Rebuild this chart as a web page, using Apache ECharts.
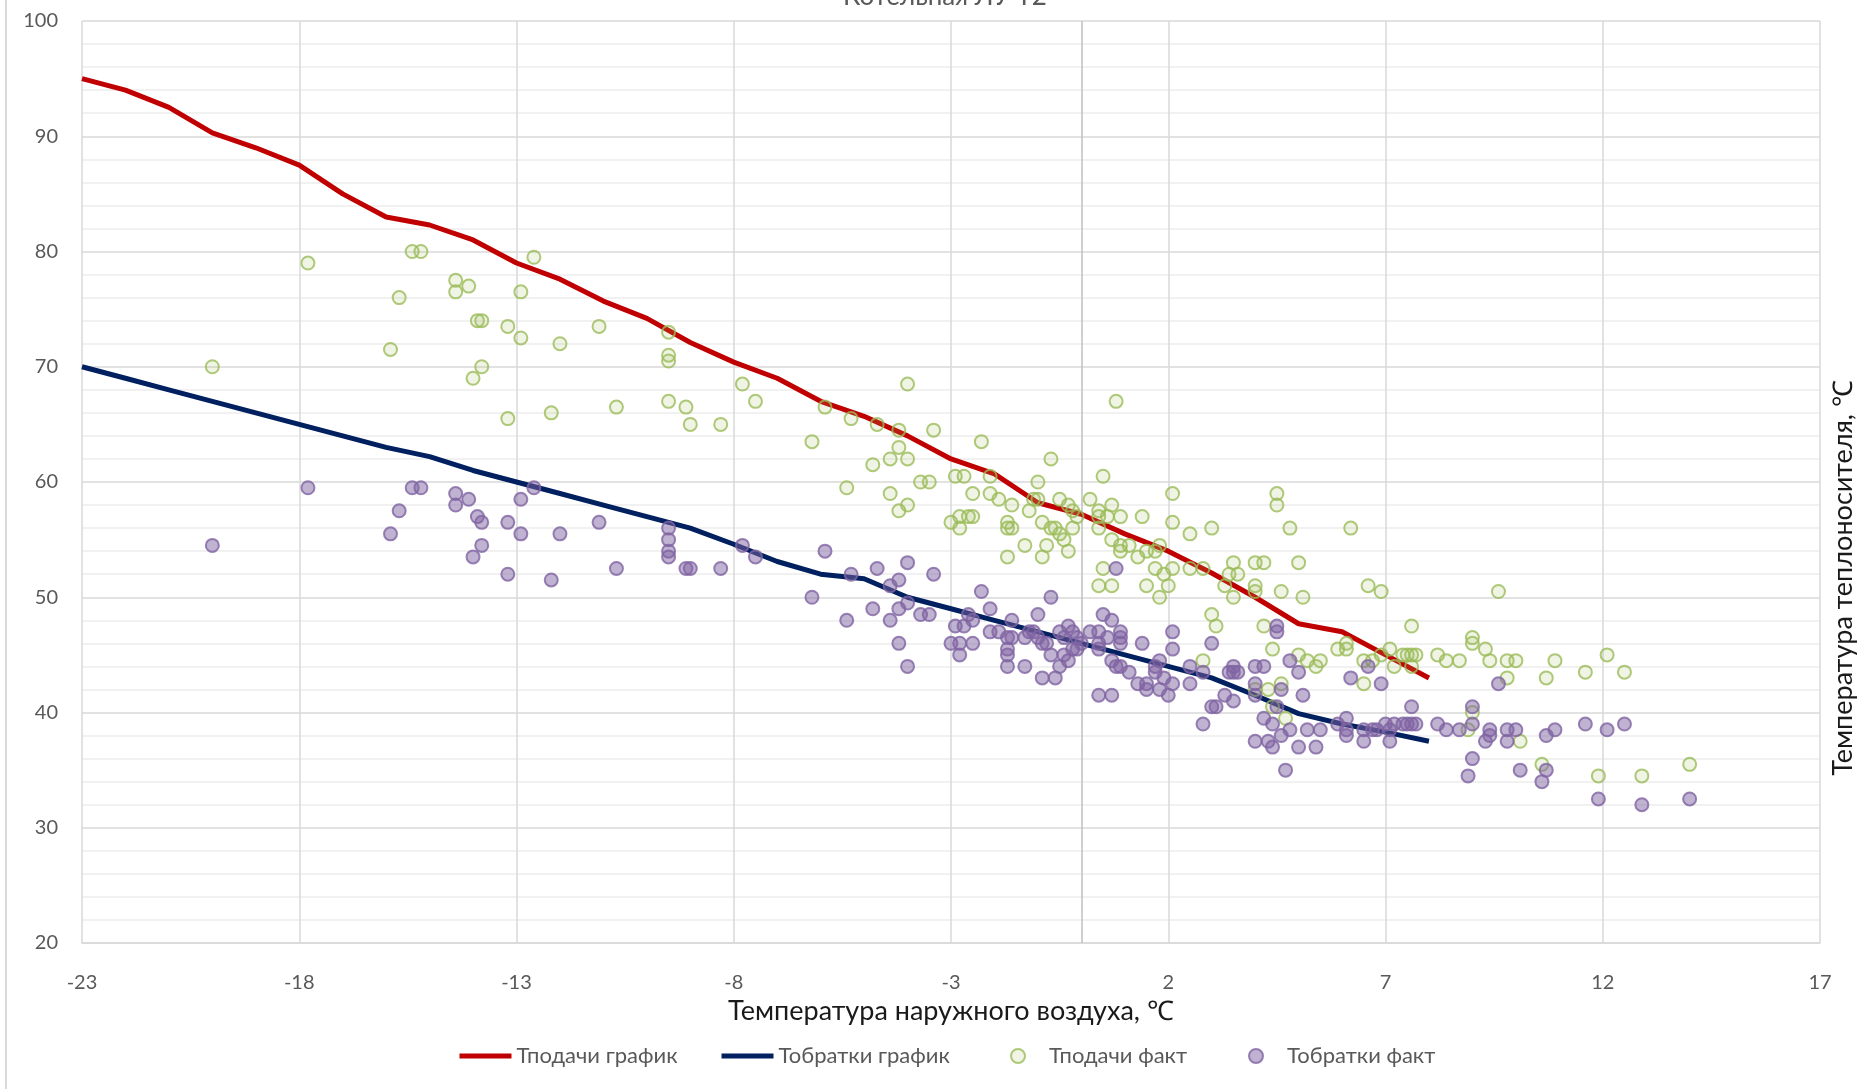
<!DOCTYPE html>
<html>
<head>
<meta charset="utf-8">
<script src="https://cdn.jsdelivr.net/npm/echarts@6/dist/echarts.min.js"></script>
<style>
html,body{margin:0;padding:0;background:#fff;}
#chart{width:1865px;height:1089px;}
</style>
</head>
<body>
<div id="chart"></div>
<script>
// ---- data ----
var titleText = 'Котельная ЛУ Т2';
var xName = 'Температура наружного воздуха, ℃';
var yName = 'Температура теплоносителя, ℃';
var seriesNames = ['Тподачи график', 'Тобратки график', 'Тподачи факт', 'Тобратки факт'];

var scheduleX = [-23,-22,-21,-20,-19,-18,-17,-16,-15,-14,-13,-12,-11,-10,-9,-8,-7,-6,-5,-4,-3,-2,-1,0,1,2,3,4,5,6,7,8];
var supplySchedule = [95,94,92.5,90.3,89,87.5,85,83,82.3,81,79,77.6,75.7,74.2,72.1,70.4,69,67,65.7,64,62,60.7,58.2,57.2,55.5,54,52.1,50,47.7,47,45,43];
var returnSchedule = [70,69,68,67,66,65,64,63,62.2,61,60,59,58,57,56,54.6,53.1,52,51.6,50,49,48,47,46,45,44,43,41.5,39.9,39,38.3,37.5];

var supplyFact = [
[-20,70],[-17.8,79],[-15.4,80],[-15.2,80],[-15.7,76],[-15.9,71.5],[-14.4,77.5],[-14.4,76.5],[-14.1,77],[-13.9,74],[-13.8,74],[-13.8,70],[-14.0,69],[-13.2,73.5],[-12.9,76.5],[-12.9,72.5],[-13.2,65.5],[-12.6,79.5],[-12.2,66],[-12.0,72],[-11.1,73.5],[-10.7,66.5],[-9.5,73],[-9.5,71],[-9.5,70.5],[-9.5,67],[-9.1,66.5],[-9.0,65],[-8.3,65],[-7.8,68.5],
[-7.5,67],[-5.9,66.5],[-6.2,63.5],[-5.3,65.5],[-5.4,59.5],[-4.7,65],[-4.2,64.5],[-4.0,68.5],[-4.2,63],[-4.4,62],[-4.0,62],[-4.8,61.5],[-4.4,59],[-4.2,57.5],[-4.0,58],[-3.7,60],[-3.5,60],[-3.4,64.5],[-2.9,60.5],[-2.7,60.5],[-2.3,63.5],[-2.1,60.5],[-2.5,59],[-2.1,59],[-1.9,58.5],[-1.6,58],[-3.0,56.5],[-2.8,57],[-2.6,57],[-2.5,57],[-2.8,56],[-1.7,56.5],[-1.7,56],[-1.6,56],[-1.7,53.5],[-1.3,54.5],[-1.0,60],[-1.1,58.5],[-1.0,58.5],[-1.2,57.5],[-0.7,62],[-0.9,56.5],[-0.8,54.5],[-0.9,53.5],[-0.5,58.5],[-0.7,56],[-0.6,56],[-0.5,55.5],[-0.4,55],[-0.3,54],[-0.3,58],[-0.2,57.5],[-0.1,57],[-0.2,56],[0.2,58.5],[0.5,60.5],[0.4,57.5],[0.4,57],[0.4,56],[0.6,57],[0.7,58],[0.7,55],[0.5,52.5],[0.4,51],[0.7,51],[0.8,67],
[0.9,57],[1.4,57],[2.1,59],[2.1,56.5],[2.5,55.5],[3.0,56],[0.9,54.5],[0.9,54],[1.1,54.5],[1.3,53.5],[1.5,54],[1.7,54],[1.8,54.5],[1.7,52.5],[1.9,52],[2.1,52.5],[1.5,51],[2.0,51],[1.8,50],[2.5,52.5],[2.8,52.5],[3.5,53],[3.4,52],[3.6,52],[3.3,51],[3.5,50],[4.0,53],[4.2,53],[4.0,51],[4.0,50.5],[4.5,59],[4.5,58],[4.8,56],[5.0,53],[4.6,50.5],[5.1,50],[6.2,56],[6.6,51],[6.9,50.5],[3.0,48.5],[3.1,47.5],[4.2,47.5],[4.4,45.5],[2.8,44.5],[4.0,42],[4.3,42],[4.6,42.5],[4.4,40.5],[4.7,39.5],[5.0,45],[5.2,44.5],[5.4,44],[5.5,44.5],[5.9,45.5],[6.1,46],[6.1,45.5],[6.5,44.5],[6.7,44.5],[6.9,45],[7.1,45.5],[7.2,44],[7.4,45],[7.5,45],[7.6,45],[7.7,45],[7.6,44],[7.6,47.5],[8.2,45],[6.5,42.5],
[8.4,44.5],[8.7,44.5],[9.0,46.5],[9.0,46],[9.3,45.5],[9.4,44.5],[9.6,50.5],[9.8,44.5],[10.0,44.5],[9.8,43],[10.7,43],[10.9,44.5],[11.6,43.5],[12.1,45],[12.5,43.5],[9.0,40],[8.9,38.5],[10.1,37.5],[10.6,35.5],[11.9,34.5],[12.9,34.5],[14.0,35.5]
];

var returnFact = [
[-20,54.5],[-17.8,59.5],[-15.4,59.5],[-15.2,59.5],[-15.7,57.5],[-15.9,55.5],[-14.4,59],[-14.4,58],[-14.1,58.5],[-13.9,57],[-13.8,56.5],[-13.8,54.5],[-14.0,53.5],[-13.2,56.5],[-12.9,58.5],[-12.9,55.5],[-13.2,52],[-12.6,59.5],[-12.2,51.5],[-12.0,55.5],[-11.1,56.5],[-10.7,52.5],[-9.5,56],[-9.5,55],[-9.5,54],[-9.5,53.5],[-9.1,52.5],[-9.0,52.5],[-8.3,52.5],[-7.8,54.5],
[-7.5,53.5],[-5.9,54],[-6.2,50],[-5.3,52],[-5.4,48],[-4.7,52.5],[-4.0,53],[-4.2,51.5],[-4.4,51],[-4.8,49],[-4.2,49],[-4.0,49.5],[-4.4,48],[-4.2,46],[-4.0,44],[-3.7,48.5],[-3.5,48.5],[-3.4,52],[-2.3,50.5],[-2.6,48.5],[-2.5,48],[-2.9,47.5],[-2.7,47.5],[-2.1,49],[-3.0,46],[-2.8,46],[-2.5,46],[-2.8,45],[-2.1,47],[-1.9,47],[-1.6,48],[-1.7,46.5],[-1.6,46.5],[-1.7,45.5],[-1.7,45],[-1.7,44],[-1.3,46.5],[-1.3,44],[-1.0,48.5],[-0.7,50],[-1.2,47],[-1.1,47],[-1.0,46.5],[-0.9,46],[-0.8,46],[-0.7,45],[-0.9,43],[-0.6,43],[-0.5,44],[-0.5,47],[-0.3,47.5],[-0.2,47],[-0.1,46.5],[-0.4,46.5],[-0.4,45],[-0.3,44.5],[-0.2,45.5],[-0.1,45.5],[0,46],[0.2,47],[0.4,47],[0.4,45.5],[0.6,46.5],[0.7,48],[0.5,48.5],[0.7,44.5],[0.8,44],[0.4,41.5],[0.7,41.5],[0.8,52.5],
[0.9,47],[0.9,46.5],[0.9,46],[0.4,46],[1.1,43.5],[0.9,44],[1.3,42.5],[1.5,42.5],[1.5,42],[1.4,46],[1.7,44],[1.8,44.5],[1.7,43.5],[1.9,43],[2.1,42.5],[1.8,42],[2.0,41.5],[2.1,47],[2.1,45.5],[2.5,44],[2.5,42.5],[2.8,43.5],[3.0,46],[2.8,39],[3.0,40.5],[3.1,40.5],[3.3,41.5],[3.4,43.5],[3.5,44],[3.5,43.5],[3.6,43.5],[3.5,41],[4.0,44],[4.2,44],[4.0,42.5],[4.0,41.5],[4.5,47.5],[4.5,47],[4.6,42],[4.8,44.5],[5.0,43.5],[5.1,41.5],[4.5,40.5],[4.2,39.5],[4.4,39],[4.0,37.5],[4.3,37.5],[4.4,37],[4.6,38],[4.8,38.5],[4.7,35],[5.0,37],[5.4,37],[5.2,38.5],[5.5,38.5],[6.2,43],[6.6,44],[6.9,42.5],[5.9,39],[6.1,39.5],[6.1,38.5],[6.1,38],[6.5,38.5],[6.5,37.5],[6.7,38.5],[6.8,38.5],[7.0,39],[7.1,38.5],[7.1,37.5],[7.2,39],[7.4,39],[7.5,39],[7.6,39],[7.7,39],[7.6,40.5],[8.2,39],
[8.4,38.5],[8.7,38.5],[9.0,40.5],[9.0,39],[9.4,38.5],[9.3,37.5],[9.4,38],[9.6,42.5],[9.8,38.5],[10.0,38.5],[9.8,37.5],[9.0,36],[8.9,34.5],[10.1,35],[10.7,38],[10.9,38.5],[10.6,34],[10.7,35],[11.6,39],[12.1,38.5],[12.5,39],[11.9,32.5],[12.9,32],[14.0,32.5]
];

// ---- chart ----
var FONT = 'Lato';
function pairs(xs, ys){ return xs.map(function(x,i){ return [x, ys[i]]; }); }
function legendAt(left, item){
  return {
    left: left, top: 1045, padding: 0,
    itemWidth: 52, itemHeight: 14, itemGap: 0,
    textStyle: {fontFamily: FONT, fontSize: 22, color: '#595959'},
    data: [item]
  };
}

var chart = echarts.init(document.getElementById('chart'), null, {renderer:'canvas'});
chart.setOption({
  animation: false,
  backgroundColor: '#ffffff',
  textStyle: {fontFamily: FONT},
  grid: {left: 82, right: 45, top: 21, bottom: 146, containLabel: false},
  legend: [
    legendAt(457, {name: seriesNames[0], itemStyle: {opacity: 0}, lineStyle: {width: 5}}),
    legendAt(719, {name: seriesNames[1], itemStyle: {opacity: 0}, lineStyle: {width: 5}}),
    legendAt(1010, {name: seriesNames[2]}),
    legendAt(1248, {name: seriesNames[3]})
  ],
  xAxis: {
    type: 'value', min: -23, max: 17, interval: 5,
    name: xName, nameLocation: 'middle', nameGap: 48,
    nameTextStyle: {fontFamily: FONT, fontSize: 27, color: '#1a1a1a'},
    axisLine: {show: true, onZero: false, lineStyle: {color: '#D9D9D9', width: 1.5}},
    axisTick: {show: false},
    axisLabel: {fontFamily: FONT, fontSize: 20, color: '#595959', margin: 30},
    splitLine: {show: true, lineStyle: {color: '#D9D9D9', width: 1.5}}
  },
  yAxis: {
    type: 'value', min: 20, max: 100, interval: 10,
    axisLine: {show: false},
    axisTick: {show: false},
    axisLabel: {fontFamily: FONT, fontSize: 20, color: '#595959', margin: 24},
    splitLine: {show: true, lineStyle: {color: '#D9D9D9', width: 1.5}},
    minorTick: {show: false, splitNumber: 5},
    minorSplitLine: {show: true, lineStyle: {color: '#EDEDED', width: 1.5}}
  },
  graphic: [
    {type: 'line', shape: {x1: 6, y1: 0, x2: 6, y2: 1089}, style: {stroke: '#D9D9D9', lineWidth: 2}, z: 100},
    {type: 'text', x: 945, y: -3, style: {text: titleText, fontFamily: FONT, fontSize: 26, fill: '#595959', align: 'center', verticalAlign: 'middle'}},
    {type: 'text', x: 1843, y: 578, rotation: Math.PI/2, style: {text: yName, fontFamily: FONT, fontSize: 27, fill: '#1a1a1a', align: 'center', verticalAlign: 'middle'}}
  ],
  series: [
    {
      name: seriesNames[0], type: 'line', data: pairs(scheduleX, supplySchedule),
      showSymbol: false, symbol: 'none', z: 2,
      lineStyle: {color: '#C00000', width: 5}, itemStyle: {color: '#C00000'},
      markLine: {
        silent: true, symbol: 'none', label: {show: false},
        lineStyle: {color: '#BFBFBF', width: 1.5, type: 'solid'},
        data: [{xAxis: 0}], z: 1
      }
    },
    {
      name: seriesNames[1], type: 'line', data: pairs(scheduleX, returnSchedule),
      showSymbol: false, symbol: 'none', z: 2,
      lineStyle: {color: '#002060', width: 5}, itemStyle: {color: '#002060'}
    },
    {
      name: seriesNames[2], type: 'scatter', data: supplyFact, symbol: 'circle', symbolSize: 13, z: 3,
      itemStyle: {color: 'rgba(155,187,89,0.2)', borderColor: '#9BBB59', borderWidth: 2}
    },
    {
      name: seriesNames[3], type: 'scatter', data: returnFact, symbol: 'circle', symbolSize: 13, z: 4,
      itemStyle: {color: 'rgba(128,100,162,0.62)', borderColor: '#8064A2', borderWidth: 2}
    }
  ]
});
</script>
</body>
</html>
